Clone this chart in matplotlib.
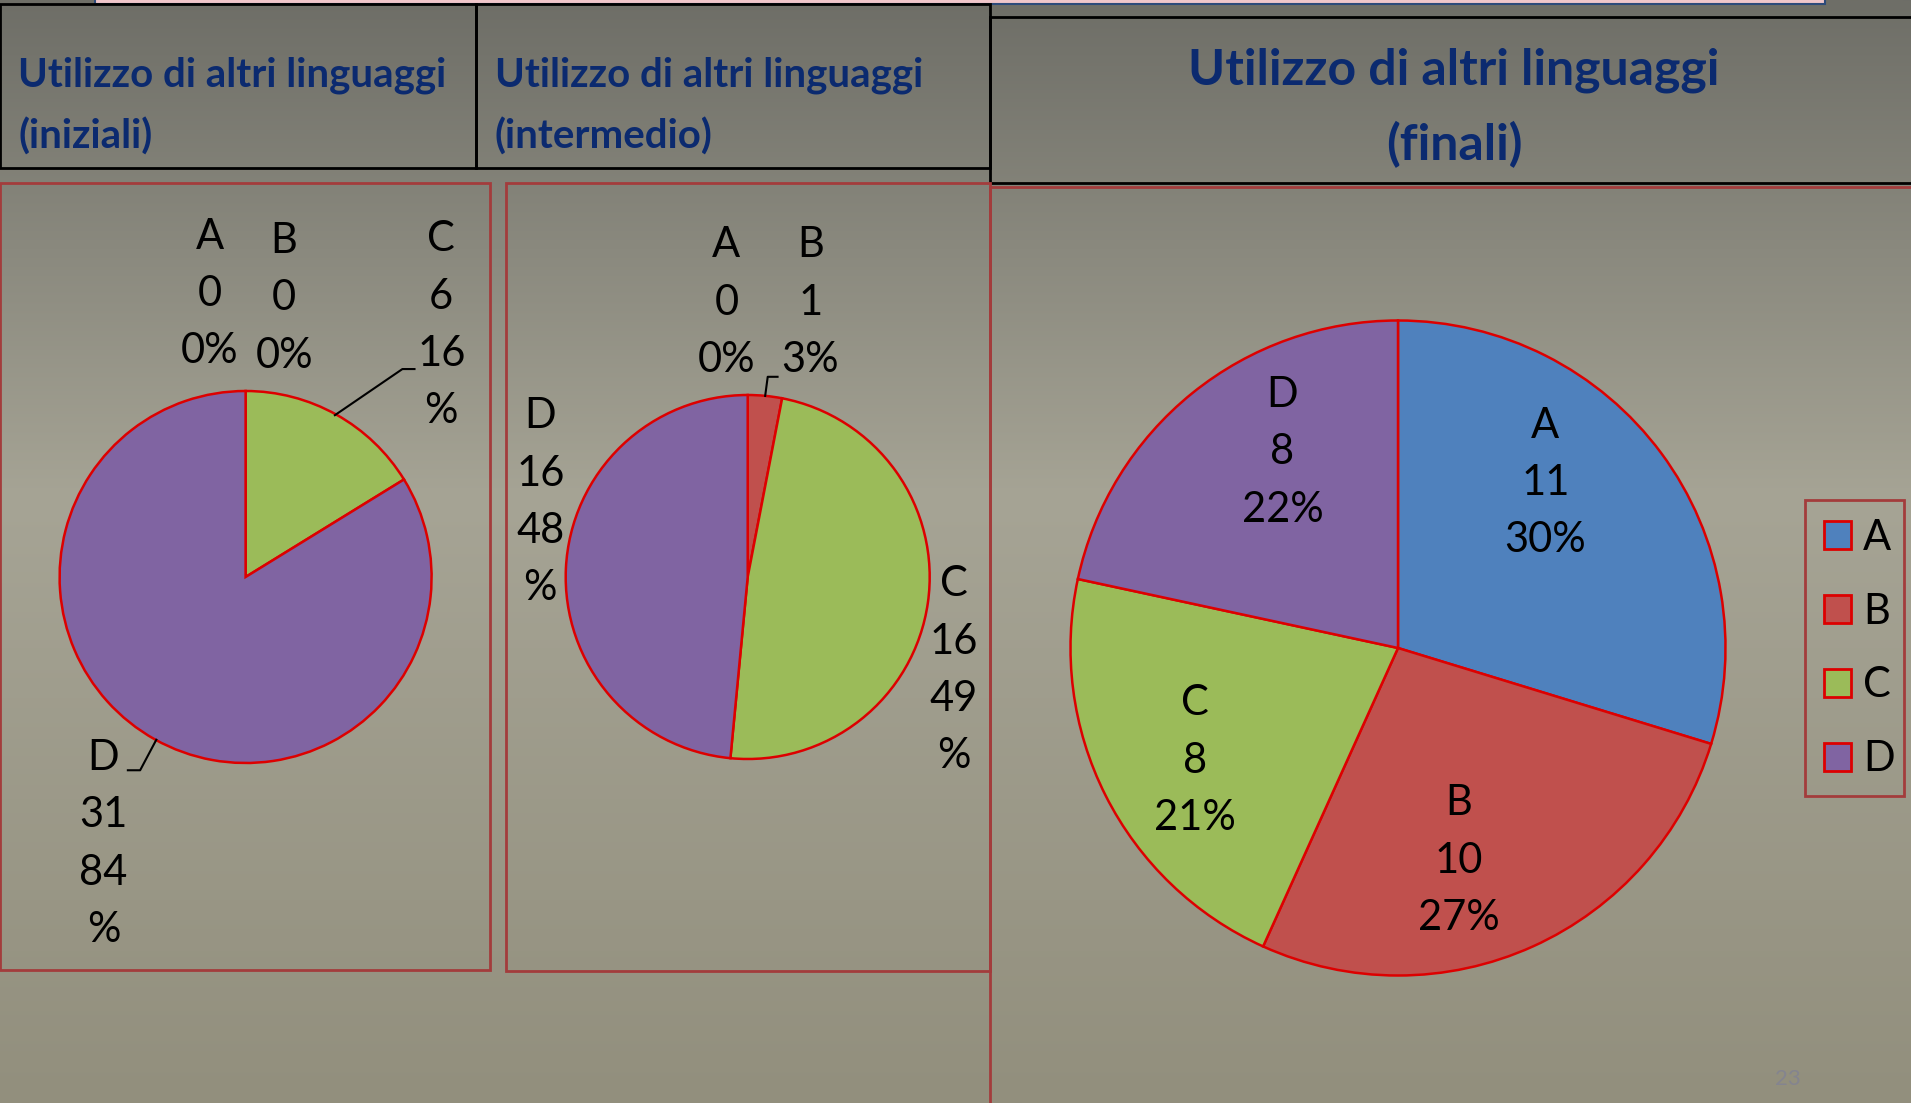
import matplotlib

matplotlib.use("Agg")
import matplotlib.pyplot as plt
import numpy as np
from matplotlib.patches import Rectangle
from matplotlib.lines import Line2D

plt.rcParams["font.family"] = ["Lato", "DejaVu Sans"]

W, H = 1911, 1103

# --- dati ---
categorie = ["A", "B", "C", "D"]
iniziali = [0, 0, 6, 31]
iniziali_pct = ["0%", "0%", "16\n%", "84\n%"]
intermedio = [0, 1, 16, 16]
intermedio_pct = ["0%", "3%", "49\n%", "48\n%"]
finali = [11, 10, 8, 8]
finali_pct = ["30%", "27%", "21%", "22%"]

titoli = [
    "Utilizzo di altri linguaggi\n(iniziali)",
    "Utilizzo di altri linguaggi\n(intermedio)",
    "Utilizzo di altri linguaggi\n(finali)",
]

colori = ["#4f81bd", "#c0504d", "#9bbb59", "#8064a2"]
bordo_fette = "#dd0000"
bordo_box = "#a33c3c"
blu_titolo = "#0b2a6f"


def fx(x):
    return x / W


def fy(y):
    return 1 - y / H


fig = plt.figure(figsize=(W / 100, H / 100), dpi=100)

# sfondo sfumato
bg = fig.add_axes([0, 0, 1, 1], zorder=-10)
stops_y = [0.0, 0.45, 1.0]
stops_c = np.array([[110, 110, 103], [166, 164, 149], [146, 143, 125]]) / 255
yy = np.linspace(0, 1, 400)
grad = np.stack([np.interp(yy, stops_y, stops_c[:, k]) for k in range(3)], axis=1)
bg.imshow(grad[:, None, :], aspect="auto", extent=[0, 1, 0, 1])
bg.set_xlim(0, 1)
bg.set_ylim(0, 1)
bg.axis("off")


def box(x0, y0, x1, y1, ec, lw=2.0, fc="none", z=1):
    fig.patches.append(Rectangle((fx(x0), fy(y1)), fx(x1 - x0), (y1 - y0) / H,
                                 transform=fig.transFigure, fc=fc, ec=ec, lw=lw, zorder=z))


# striscia in alto
box(95, -10, 1825, 4, ec="#2d4a7a", fc="#f0c6ca", lw=1.5)

# intestazioni
box(0, 4, 476, 168, ec="black", lw=2)
box(476, 4, 990, 168, ec="black", lw=2)
box(990, 17, 1925, 183, ec="black", lw=2)
fig.text(fx(18), fy(106.5), titoli[0], color=blu_titolo, fontsize=29, fontweight="bold",
         ha="left", va="center", linespacing=1.76)
fig.text(fx(495), fy(106.5), titoli[1], color=blu_titolo, fontsize=29, fontweight="bold",
         ha="left", va="center", linespacing=1.76)
fig.text(fx(1454), fy(107.5), titoli[2], color=blu_titolo, fontsize=36, fontweight="bold",
         ha="center", va="center", linespacing=1.72)

# riquadri dei grafici
box(0, 183, 490, 970, ec=bordo_box, lw=2)
box(506, 183, 990, 971, ec=bordo_box, lw=2)
box(990, 187, 1930, 1120, ec=bordo_box, lw=2)

# numero pagina
fig.text(fx(1788), fy(1079), "23", color="#84848f", fontsize=16, ha="center", va="center")


def torta(cx, cy, r, valori):
    s = 3.0 * r
    ax = fig.add_axes([fx(cx - s), fy(cy + s), 2 * s / W, 2 * s / H])
    wedges, _ = ax.pie(valori, colors=colori, startangle=90, counterclock=False,
                       wedgeprops=dict(edgecolor=bordo_fette, linewidth=1.8))
    ax.set_xlim(-s / r, s / r)
    ax.set_ylim(-s / r, s / r)
    ax.axis("off")
    return ax, wedges


def etichetta(ax, x, y, testo):
    ax.text(x, y, testo, fontsize=30, ha="center", va="center", linespacing=1.62,
            multialignment="center", color="black", clip_on=False)


def richiamo(ax, pts):
    xs, ys = zip(*pts)
    ax.add_line(Line2D(xs, ys, color="black", lw=1.5, clip_on=False))


# torta iniziali
ax1, _ = torta(245.6, 577, 186, iniziali)
pos1 = [(-0.193, 1.521), (0.207, 1.498), (1.052, 1.354), (-0.764, -1.436)]
for cat, v, p, (x, y) in zip(categorie, iniziali, iniziali_pct, pos1):
    etichetta(ax1, x, y, f"{cat}\n{v}\n{p}")
richiamo(ax1, [(0.48, 0.87), (0.843, 1.118), (0.908, 1.118)])
richiamo(ax1, [(-0.48, -0.875), (-0.567, -1.039), (-0.633, -1.039)])

# torta intermedio
ax2, _ = torta(747.7, 577, 182, intermedio)
pos2 = [(-0.117, 1.508), (0.344, 1.508), (1.134, -0.512), (-1.140, 0.411)]
for cat, v, p, (x, y) in zip(categorie, intermedio, intermedio_pct, pos2):
    etichetta(ax2, x, y, f"{cat}\n{v}\n{p}")
richiamo(ax2, [(0.096, 0.995), (0.110, 1.100), (0.164, 1.100)])

# torta finali
ax3, fette3 = torta(1398, 648, 327.5, finali)
pos3 = [(0.450, 0.504), (0.186, -0.649), (-0.621, -0.344), (-0.353, 0.597)]
for cat, v, p, (x, y) in zip(categorie, finali, finali_pct, pos3):
    etichetta(ax3, x, y, f"{cat}\n{v}\n{p}")

# legenda con cornice disegnata a parte
box(1805, 500, 1904, 796, ec=bordo_box, lw=2)
leg = fig.legend(fette3, categorie, loc="upper left",
                 bbox_to_anchor=(fx(1805), fy(500)), bbox_transform=fig.transFigure,
                 fontsize=30, frameon=False, handlelength=0.65, handleheight=0.65,
                 handletextpad=0.3, labelspacing=0.86, borderpad=0.45,
                 borderaxespad=0)
for h in leg.legend_handles:
    h.set_edgecolor(bordo_fette)
    h.set_linewidth(2)

fig.savefig("out.png", dpi=100)
